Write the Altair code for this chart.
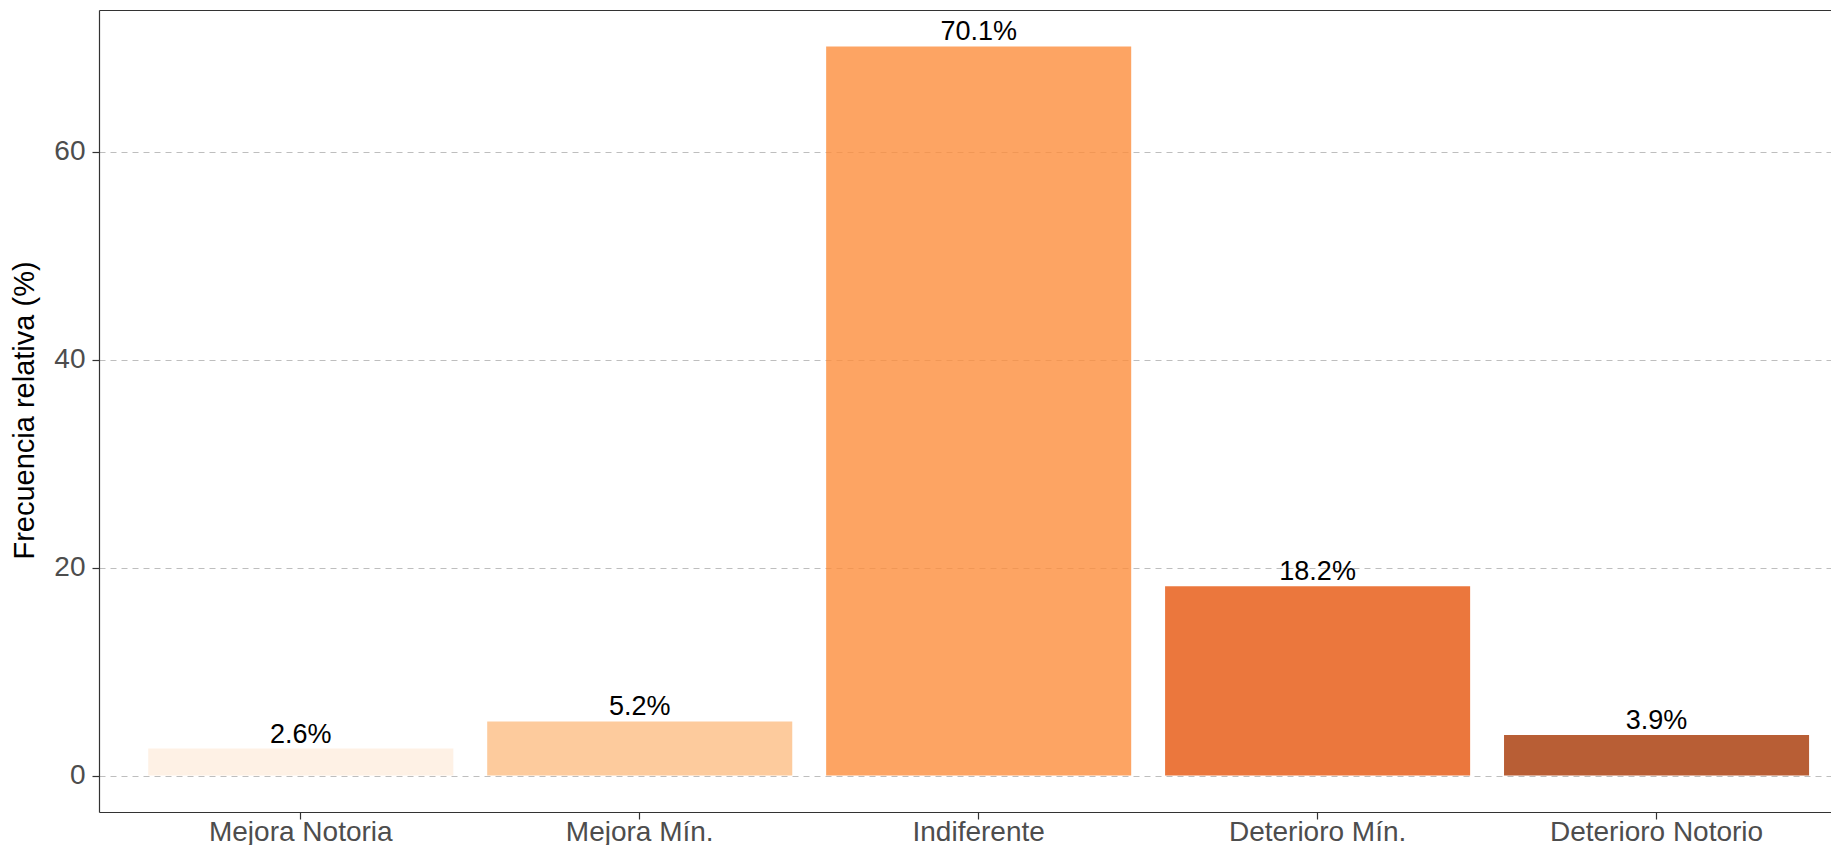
import altair as alt
import pandas as pd

categorias = ["Mejora Notoria", "Mejora Mín.", "Indiferente", "Deterioro Mín.", "Deterioro Notorio"]
frecuencias = [2.6, 5.2, 70.1, 18.2, 3.9]
etiquetas = [f"{v:.1f}%" for v in frecuencias]
colores = ["#FEEDDE", "#FDBE85", "#FD8D3C", "#E6550D", "#A63603"]
y_ticks = [0, 20, 40, 60]

FONT = "Liberation Sans"
BORDER = "#333333"

df = pd.DataFrame({"cat": categorias, "freq": frecuencias, "lab": etiquetas})

x_scale = alt.Scale(paddingInner=0.1, paddingOuter=0.105, align=0.692)

x_bottom = alt.X(
    "cat:N",
    sort=categorias,
    title=None,
    scale=x_scale,
    axis=alt.Axis(
        orient="bottom",
        labelAngle=0,
        labelFontSize=28,
        labelFont=FONT,
        labelColor="#4D4D4D",
        labelBaseline="alphabetic",
        labelPadding=21,
        labelLimit=0,
        tickSize=7,
        tickColor=BORDER,
        tickWidth=1.2,
        domain=True,
        domainColor=BORDER,
        domainWidth=1.2,
        grid=False,
    ),
)

x_top = alt.X(
    "cat:N",
    sort=categorias,
    title=None,
    scale=x_scale,
    axis=alt.Axis(
        orient="top",
        labels=False,
        ticks=False,
        domain=True,
        domainColor=BORDER,
        domainWidth=1.2,
        grid=False,
    ),
)

y = alt.Y(
    "freq:Q",
    scale=alt.Scale(domain=[-3.505, 73.605], nice=False, zero=False),
    axis=alt.Axis(
        values=y_ticks,
        title="Frecuencia relativa (%)",
        titleFontSize=29,
        titleFont=FONT,
        titleColor="#000000",
        titleFontWeight="normal",
        titleX=-66,
        titleY=400,
        titleBaseline="alphabetic",
        labelFontSize=28,
        labelFont=FONT,
        labelColor="#4D4D4D",
        labelPadding=7,
        tickSize=7,
        tickColor=BORDER,
        tickWidth=1.2,
        grid=True,
        gridDash=[6, 5],
        gridColor="#BEBEBE",
        gridWidth=1,
        domain=True,
        domainColor=BORDER,
        domainWidth=1.2,
    ),
)

bars = alt.Chart(df).mark_bar(opacity=0.8).encode(
    x=x_bottom,
    y=y,
    y2=alt.datum(0),
    color=alt.Color("cat:N", scale=alt.Scale(domain=categorias, range=colores), legend=None),
)

texts = alt.Chart(df).mark_text(
    baseline="alphabetic", dy=-6, fontSize=27, font=FONT, color="#000000"
).encode(x=x_top, y=y, text="lab:N")

chart = (
    alt.layer(bars, texts)
    .resolve_axis(x="independent")
    .properties(
        width=1732,
        height=802,
        autosize=alt.AutoSizeParams(type="none"),
        padding={"left": 91, "top": 2, "right": 0, "bottom": 33},
        background="white",
    )
    .configure_view(stroke=None)
)

chart.save("out.html", embed_options={"renderer": "svg", "actions": False})
